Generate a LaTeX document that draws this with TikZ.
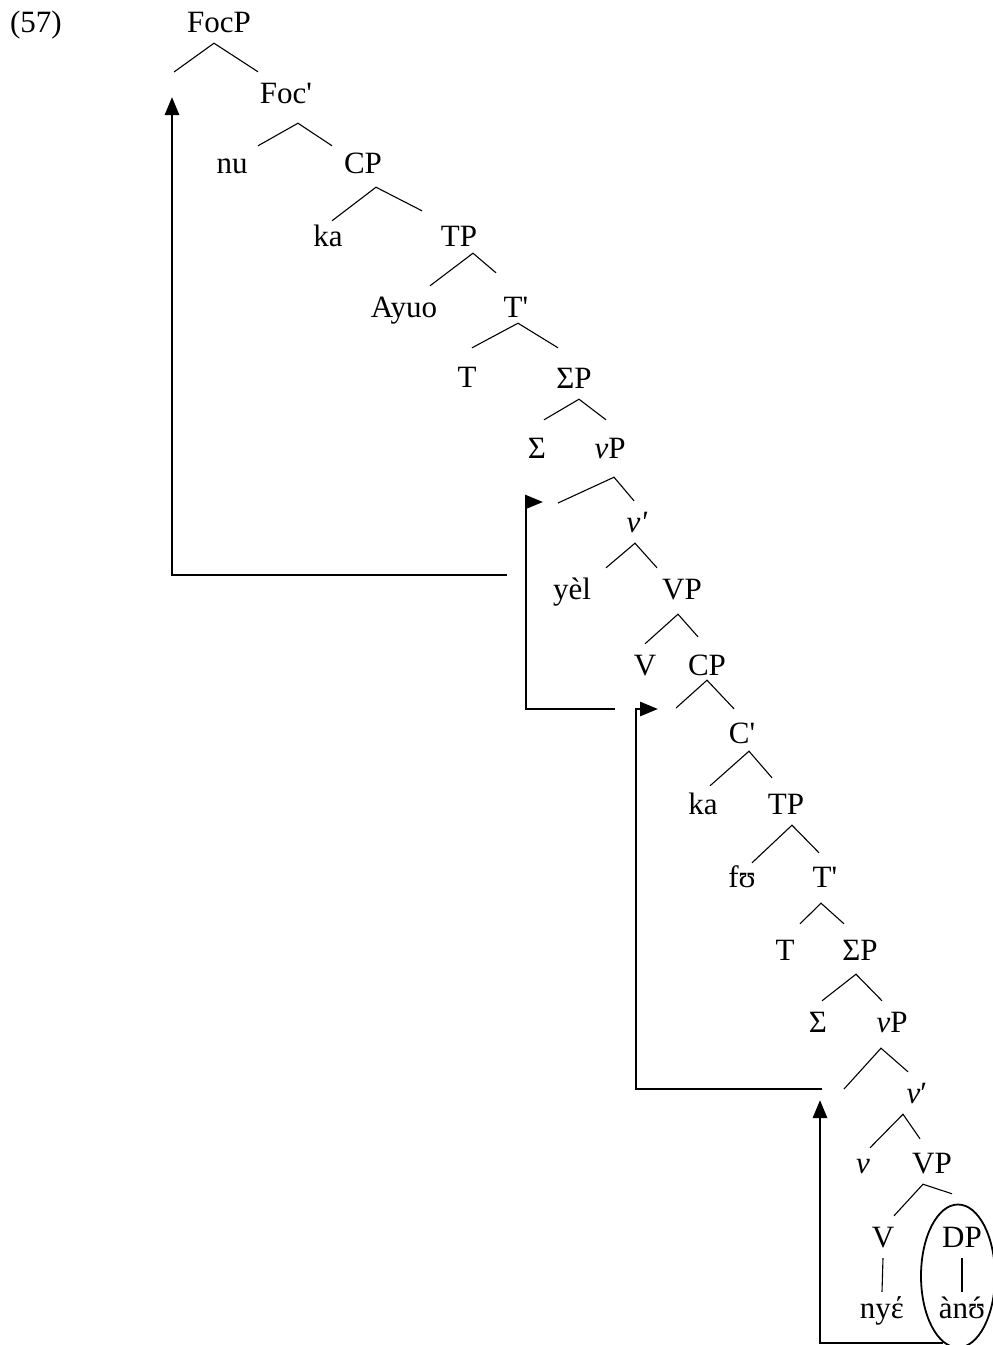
\documentclass[tikz,border=0pt]{standalone}
\usepackage{fontspec}
\setmainfont{Liberation Serif}
\usepackage{tikz}
\usetikzlibrary{arrows.meta,shapes.geometric}

\begin{document}
\begin{tikzpicture}[
  x=1pt,y=-1pt,
  font=\fontsize{31}{37}\selectfont,
  lab/.style={inner xsep=8pt,inner ysep=11pt,text height=20pt,text depth=0pt},
  br/.style={line width=1.1pt},
  movearr/.style={line width=2.8pt,-{Triangle[length=18pt,width=14pt]}},
  ring/.style={draw,ellipse,line width=1.8pt,inner sep=0pt}
]
\useasboundingbox (0,0) rectangle (993,1345);

\node[lab] (num) at (36,22) {(57)};
\node[lab] (focp) at (219,22) {FocP};
\node[lab] (focbar) at (286,93) {Foc\textquotesingle};
\node[lab] (nu) at (232,163) {nu};
\node[lab] (cpA) at (363,163) {CP};
\node[lab] (kaA) at (328,236) {ka};
\node[lab] (tpA) at (459,236) {TP};
\node[lab] (ayuo) at (404,307) {Ayuo};
\node[lab] (tbarA) at (516,307) {T\textquotesingle};
\node[lab] (tA) at (467,377) {T};
\node[lab] (sigpA) at (574,378) {ΣP};
\node[lab] (sigA) at (537,448) {Σ};
\node[lab] (vpA) at (610,448) {\textit{v}P};
\node[lab] (vbarA) at (637,522) {\textit{v\textquotesingle}};
\node[lab] (yel) at (572,589) {yèl};
\node[lab] (bigvpA) at (682,589) {VP};
\node[lab] (vA) at (645,665) {V};
\node[lab] (cpB) at (707,665) {CP};
\node[lab] (cbar) at (742,733) {C\textquotesingle};
\node[lab] (kaB) at (703,804) {ka};
\node[lab] (tpB) at (786,804) {TP};
\node[lab] (fu) at (742,877) {fʊ};
\node[lab] (tbarB) at (825,877) {T\textquotesingle};
\node[lab] (tB) at (785,950) {T};
\node[lab] (sigpB) at (860,950) {ΣP};
\node[lab] (sigB) at (818,1022) {Σ};
\node[lab] (vpB) at (892,1022) {\textit{v}P};
\node[lab] (vbarB) at (917,1093) {\textit{v}′};
\node[lab] (vlit) at (863,1163) {\textit{v}};
\node[lab] (bigvpB) at (932,1163) {VP};
\node[lab] (vB) at (883,1237) {V};
\node[lab] (dp) at (962,1237) {DP};
\node[lab] (nye) at (882,1308) {nyέ};
\node[lab] (anu) at (962,1308) {àn\ooalign{ʊ\cr\hidewidth´\hidewidth\cr}};

% empty specifiers
\coordinate (focspec) at (174,72);
\coordinate (vspecA) at (558,503);
\coordinate (cspec) at (676,708);
\coordinate (vspecB) at (844,1089);

% branches
\draw[br] (focspec) -- ([xshift=-5pt]focp.south) -- ([xshift=-28pt]focbar.north);
\draw[br] ([xshift=26pt,yshift=-4pt]nu.north) -- ([xshift=12pt,yshift=-9pt]focbar.south) -- ([xshift=-31pt,yshift=-4pt]cpA.north);
\draw[br] ([xshift=4pt,yshift=-6pt]kaA.north) -- ([xshift=13pt,yshift=-3pt]cpA.south) -- ([xshift=-37pt,yshift=4pt]tpA.north);
\draw[br] ([xshift=26pt]ayuo.north) -- ([xshift=14pt,yshift=4pt]tpA.south) -- ([xshift=-20pt,yshift=13pt]tbarA.north);
\draw[br] ([xshift=5pt,yshift=8pt]tA.north) -- ([xshift=2pt,yshift=5pt]tbarA.south) -- ([xshift=-16pt,yshift=9pt]sigpA.north);
\draw[br] ([xshift=7pt,yshift=7pt]sigA.north) -- ([xshift=5pt]sigpA.south) -- ([xshift=-4pt,yshift=7pt]vpA.north);
\draw[br] (vspecA) -- ([xshift=4pt,yshift=-8pt]vpA.south) -- ([xshift=-3pt]vbarA.north);
\draw[br] ([xshift=34pt]yel.north) -- ([xshift=-2pt]vbarA.south) -- ([xshift=-25pt]bigvpA.north);
\draw[br] (vA.north) -- ([xshift=-4pt,yshift=-4pt]bigvpA.south) -- ([xshift=-9pt,yshift=7pt]cpB.north);
\draw[br] (cspec) -- ([yshift=6pt]cpB.south) -- ([xshift=-8pt,yshift=3pt]cbar.north);
\draw[br] ([xshift=7pt,yshift=-3pt]kaB.north) -- ([xshift=7pt,yshift=3pt]cbar.south) -- ([xshift=-14pt,yshift=5pt]tpB.north);
\draw[br] ([xshift=10pt,yshift=-7pt]fu.north) -- ([xshift=6pt]tpB.south) -- ([xshift=-6pt,yshift=3pt]tbarB.north);
\draw[br] ([xshift=15pt,yshift=5pt]tB.north) -- ([xshift=-4pt,yshift=-5pt]tbarB.south) -- ([xshift=-16pt,yshift=5pt]sigpB.north);
\draw[br] ([xshift=4pt]sigB.north) -- ([xshift=-4pt,yshift=-3pt]sigpB.south) -- ([xshift=-10pt]vpB.north);
\draw[br] (vspecB) -- ([xshift=-11pt,yshift=-5pt]vpB.south) -- ([xshift=-9pt]vbarB.north);
\draw[br] ([xshift=7pt,yshift=-6pt]vlit.north) -- ([xshift=-14pt]vbarB.south) -- ([xshift=-12pt,yshift=3pt]bigvpB.north);
\draw[br] ([xshift=11pt]vB.north) -- ([xshift=-9pt]bigvpB.south) -- ([xshift=-10pt,yshift=22pt]dp.north);
\draw[br] (vB.south) -- ([yshift=-5pt]nye.north);
\draw[br] (dp.south) -- ([yshift=-5pt]anu.north);

\node[ring,minimum width=74pt,minimum height=143pt] (dpring) at (958,1276) {};

% movement
\coordinate (vpfoot) at (507,575);
\coordinate (foctip) at (172,97);
\coordinate (cpfoot) at (615,709);
\coordinate (vptip) at (543,502);
\coordinate (vpfootB) at (822,1089);
\coordinate (cptip) at (658,709);
\coordinate (dpfoot) at (943,1343);
\coordinate (vptipB) at (820,1100);
\draw[movearr] (vpfoot) -| (foctip);
\draw[movearr] (cpfoot) -| ([xshift=-17pt]vptip) -- (vptip);
\draw[movearr] (vpfootB) -| ([xshift=-22pt]cptip) -- (cptip);
\draw[movearr] (dpfoot) -| (vptipB);
\end{tikzpicture}
\end{document}
